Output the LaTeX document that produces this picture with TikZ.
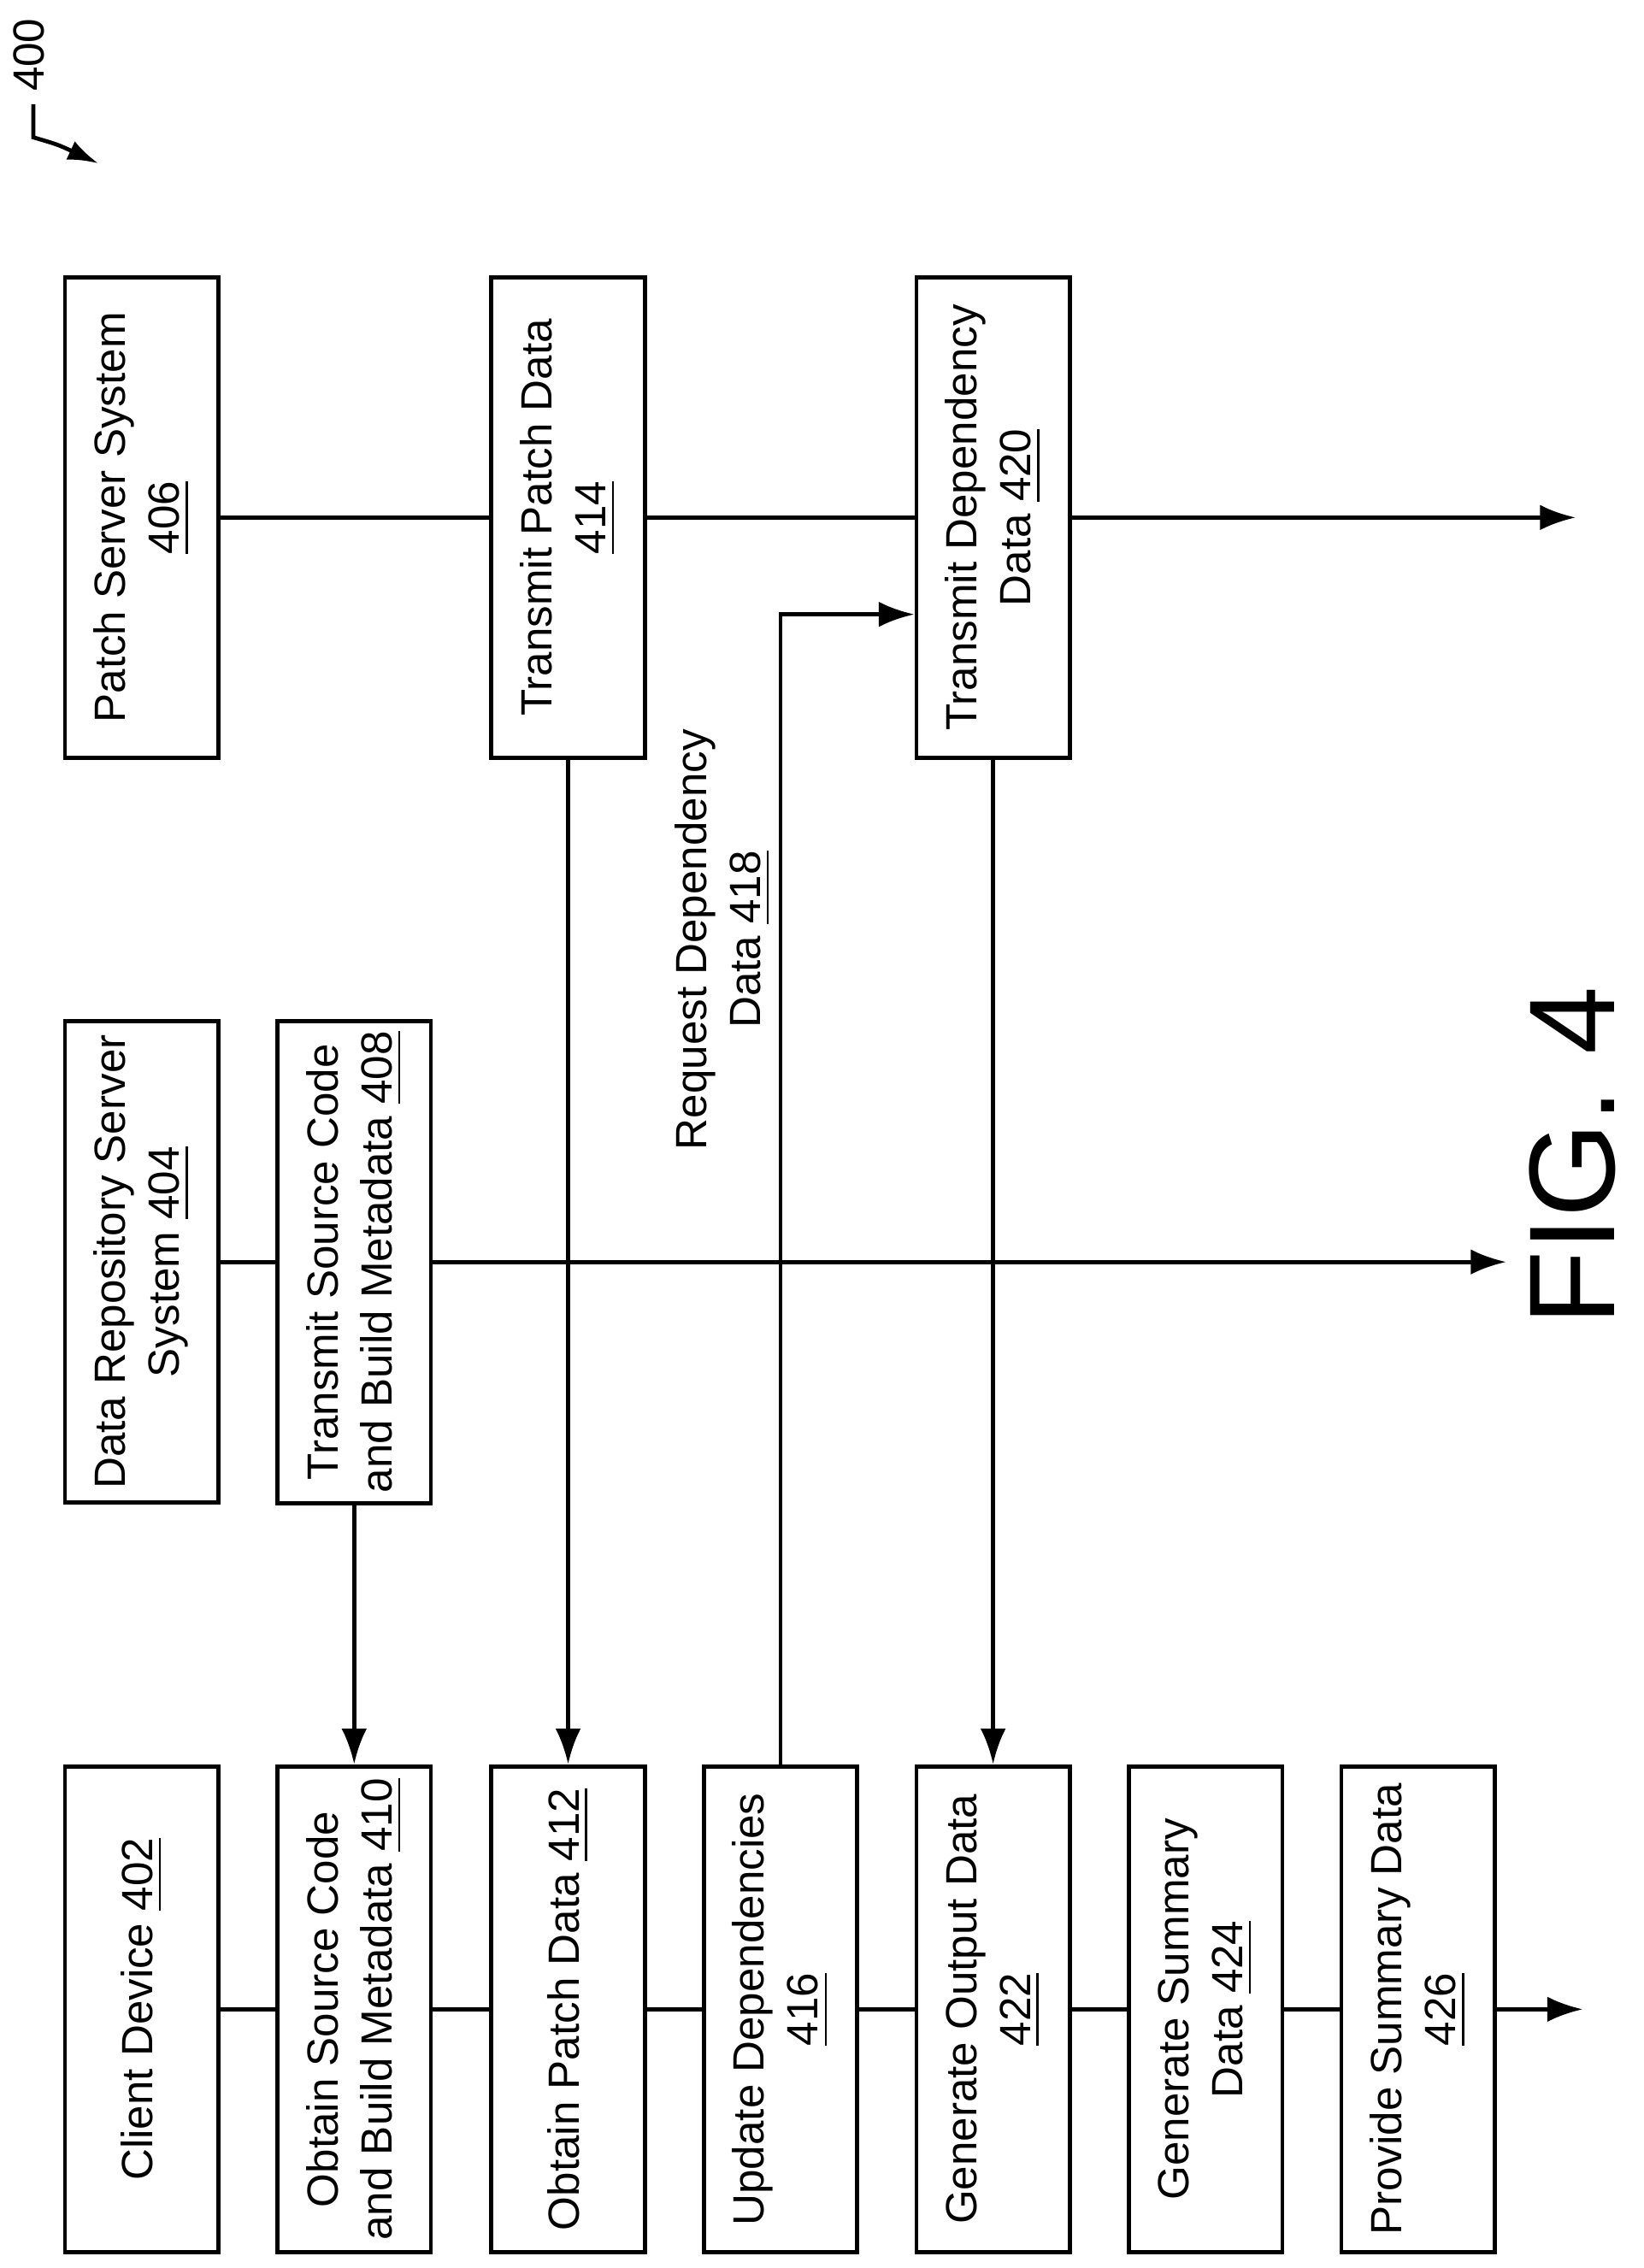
\documentclass[tikz,border=0pt]{standalone}
\usepackage{fontspec}
\setmainfont{Liberation Sans}
\usetikzlibrary{calc,arrows.meta}
\tikzset{
    box/.style={draw, thick, fill=white, rotate=90, align=center, inner sep=2pt,
        minimum height=1.06cm, font=\fontsize{8.6}{10.6}\selectfont},
    life/.style={thick},
    flow/.style={thick, -{Latex[length=7pt,width=5pt]}},
}
\begin{document}
\begin{tikzpicture}[x=0.01cm, y=0.01cm]
    \useasboundingbox (0,0) rectangle (1137,-1569);
    % Client device column
    \foreach \n/\x/\t in {c402/98/{Client Device \underline{402}},
        o410/245/{Obtain Source Code\\and Build Metadata \underline{410}},
        o412/393/{Obtain Patch Data \underline{412}},
        u416/540/{Update Dependencies\\\underline{416}},
        g422/687/{Generate Output Data\\\underline{422}},
        g424/834/{Generate Summary\\Data \underline{424}},
        p426/981/{Provide Summary Data\\\underline{426}}}
        \node[box, minimum width=3.36cm] (\n) at (\x,-1390) {\t};
    % Data repository column
    \node[box, minimum width=3.33cm] (d404) at (98,-873) {Data Repository Server\\System \underline{404}};
    \node[box, minimum width=3.33cm] (t408) at (245,-873) {Transmit Source Code\\and Build Metadata \underline{408}};
    % Patch server column
    \node[box, minimum width=3.32cm] (p406) at (98,-358) {Patch Server System\\\underline{406}};
    \node[box, minimum width=3.32cm] (t414) at (393,-358) {Transmit Patch Data\\\underline{414}};
    \node[box, minimum width=3.32cm] (d420) at (687,-358) {Transmit Dependency\\Data \underline{420}};
    % lifelines
    \coordinate (e1) at (1095,-1390);
    \coordinate (e2) at (1042,-873);
    \coordinate (e3) at (1090,-358);
    \foreach \a/\b in {c402/o410, o410/o412, o412/u416, u416/g422, g422/g424, g424/p426}
        \draw[life] (\a) -- (\b);
    \draw[flow] (p426) -- (e1);
    \draw[life] (d404) -- (t408);
    \draw[flow] (t408) -- (e2);
    \draw[life] (p406) -- (t414);
    \draw[life] (t414) -- (d420);
    \draw[flow] (d420) -- (e3);
    % messages
    \draw[flow] (t408.west) -- (o410.east);
    \draw[flow] (t414.west) -- (o412.east);
    \draw[flow] (d420.west) -- (g422.east);
    \draw[flow] (u416.east) |- ($(d420.north)+(0,-67)$);
    \node[rotate=90, align=center, font=\fontsize{8.6}{10.6}\selectfont] (r418) at (500,-650) {Request Dependency\\Data \underline{418}};
    % figure labels
    \node[rotate=90, font=\fontsize{24}{29}\selectfont] (fig) at (1088,-800) {FIG. 4};
    \node[rotate=90, font=\fontsize{8.6}{10.6}\selectfont] (n400) at (20,-38) {400};
    \coordinate (a400) at (68,-113);
    \draw[thick, -{Latex[length=6pt,width=4pt]}] (23,-72) -- (23,-95) .. controls (40,-100) .. (a400);
\end{tikzpicture}
\end{document}
